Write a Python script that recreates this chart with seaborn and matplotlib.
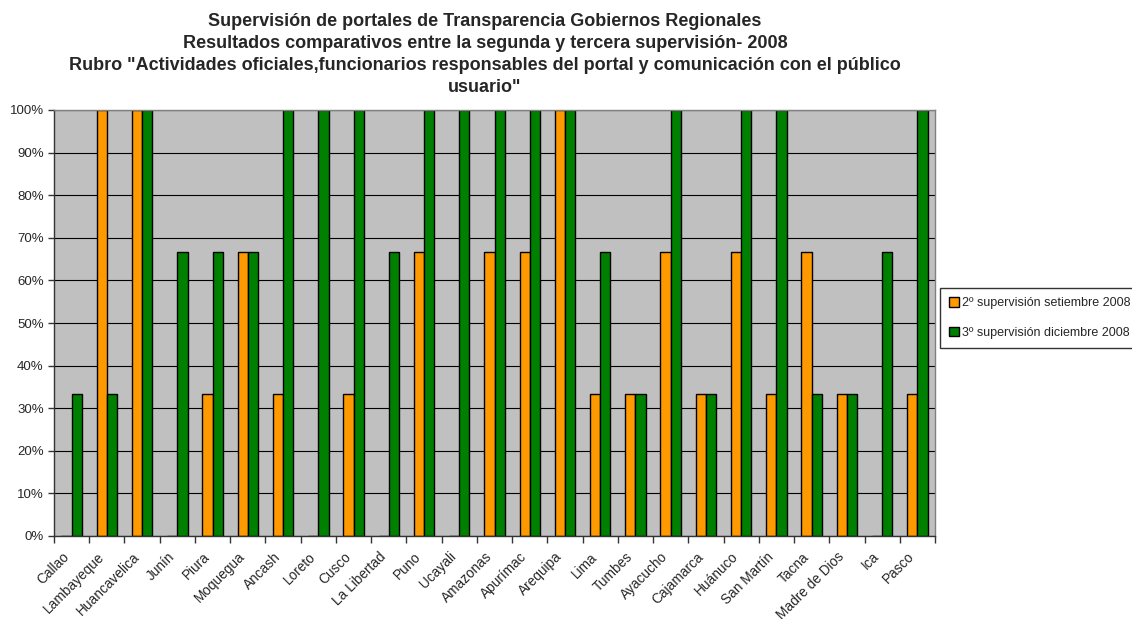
import numpy as np
import pandas as pd
import matplotlib
matplotlib.use('Agg')
import matplotlib.pyplot as plt
import seaborn as sns
from matplotlib.ticker import FixedLocator, PercentFormatter

# Datos
regiones = ['Callao', 'Lambayeque', 'Huancavelica', 'Junín', 'Piura', 'Moquegua', 'Ancash',
            'Loreto', 'Cusco', 'La Libertad', 'Puno', 'Ucayali', 'Amazonas', 'Apurímac',
            'Arequipa', 'Lima', 'Tumbes', 'Ayacucho', 'Cajamarca', 'Huánuco', 'San Martín',
            'Tacna', 'Madre de Dios', 'Ica', 'Pasco']
segunda = [0, 100, 100, 0, 33.3, 66.7, 33.3, 0, 33.3, 0, 66.7, 0, 66.7, 66.7,
           100, 33.3, 33.3, 66.7, 33.3, 66.7, 33.3, 66.7, 33.3, 0, 33.3]
tercera = [33.3, 33.3, 100, 66.7, 66.7, 66.7, 100, 100, 100, 66.7, 100, 100, 100, 100,
           100, 66.7, 33.3, 100, 33.3, 100, 100, 33.3, 33.3, 66.7, 100]
series = ['2º supervisión setiembre 2008', '3º supervisión diciembre 2008']
colores = ['#FF9900', '#008000']

df = pd.DataFrame({'Region': regiones * 2,
                   'Valor': segunda + tercera,
                   'Serie': [series[0]] * len(regiones) + [series[1]] * len(regiones)})

sns.set_style('white')
plt.rcParams['font.family'] = ['Liberation Sans', 'DejaVu Sans']

fig = plt.figure(figsize=(11.32, 6.19), dpi=100)
ax = fig.add_axes([54 / 1132, 1 - 536 / 619, 881 / 1132, 426 / 619])
ax.set_facecolor('#C0C0C0')

sns.barplot(data=df, x='Region', y='Valor', hue='Serie', palette=colores, saturation=1,
            width=0.58, edgecolor='black', linewidth=1, ax=ax, legend=True)

ax.set_xlim(-0.5, len(regiones) - 0.5)
ax.set_ylim(0, 100)
ax.yaxis.set_major_locator(FixedLocator(np.arange(0, 101, 10)))
ax.yaxis.set_major_formatter(PercentFormatter(decimals=0))
ax.grid(axis='y', color='black', linewidth=0.8)
ax.set_axisbelow(True)
ax.set_xlabel('')
ax.set_ylabel('')

ax.set_xticks(range(len(regiones)))
ax.set_xticklabels(regiones, rotation=45, ha='right', va='bottom',
                   rotation_mode='anchor', fontsize=9.8)
ax.xaxis.set_minor_locator(FixedLocator(np.arange(-0.5, len(regiones), 1)))
ax.tick_params(axis='x', which='major', length=0, pad=17)
ax.tick_params(axis='x', which='minor', length=5, color='#333333', width=1, bottom=True)
ax.tick_params(axis='y', length=4, width=1, color='#333333', labelsize=9.5, left=True)

for lado in ['top', 'right']:
    ax.spines[lado].set_color('#808080')
for lado in ['left', 'bottom']:
    ax.spines[lado].set_color('#333333')
for s in ax.spines.values():
    s.set_linewidth(1)

ax.legend(loc='upper left', bbox_to_anchor=(940 / 1132, 1 - 288 / 619),
          bbox_transform=fig.transFigure, fontsize=9.0, frameon=True,
          fancybox=False, edgecolor='black', handlelength=0.75, handleheight=0.75,
          handletextpad=0.25, labelspacing=1.4, borderpad=0.75, borderaxespad=0)

fig.text(0.4285, 1 - 13 / 619,
         'Supervisión de portales de Transparencia Gobiernos Regionales\n'
         'Resultados comparativos entre la segunda y tercera supervisión- 2008\n'
         'Rubro "Actividades oficiales,funcionarios responsables del portal y comunicación con el público\n'
         'usuario"',
         ha='center', va='top', fontsize=13, fontweight='bold', linespacing=1.38)

fig.savefig('out.png', dpi=100)
